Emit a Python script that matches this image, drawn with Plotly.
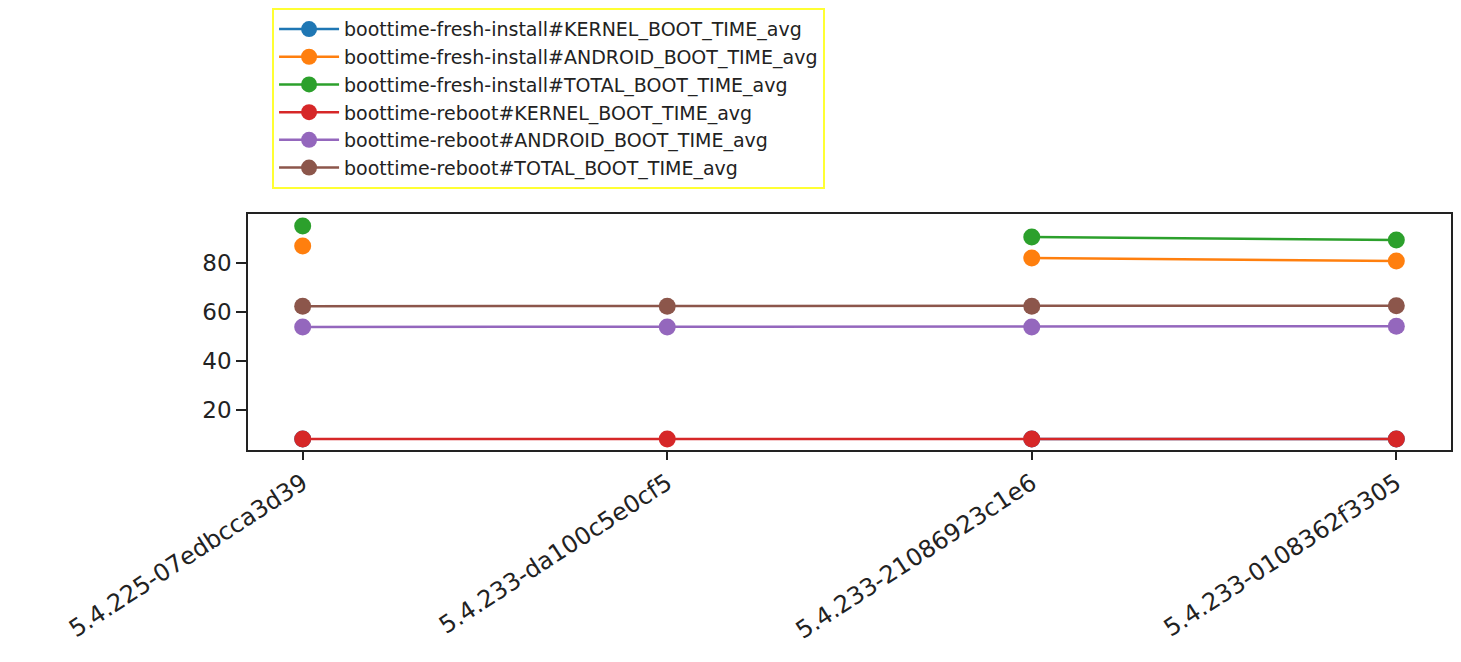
import plotly.graph_objects as go

builds = ["5.4.225-07edbcca3d39", "5.4.233-da100c5e0cf5",
          "5.4.233-21086923c1e6", "5.4.233-0108362f3305"]

series_names = [
    "boottime-fresh-install#KERNEL_BOOT_TIME_avg",
    "boottime-fresh-install#ANDROID_BOOT_TIME_avg",
    "boottime-fresh-install#TOTAL_BOOT_TIME_avg",
    "boottime-reboot#KERNEL_BOOT_TIME_avg",
    "boottime-reboot#ANDROID_BOOT_TIME_avg",
    "boottime-reboot#TOTAL_BOOT_TIME_avg",
]

fresh_kernel = [8.2, None, 8.2, 8.2]
fresh_android = [86.9, None, 82.0, 80.8]
fresh_total = [95.1, None, 90.6, 89.4]
reboot_kernel = [8.2, 8.2, 8.2, 8.2]
reboot_android = [53.9, 53.9, 53.9, 54.2]
reboot_total = [62.4, 62.4, 62.4, 62.6]

colors = ["#1f77b4", "#ff7f0e", "#2ca02c", "#d62728", "#9467bd", "#8c564b"]
values = [fresh_kernel, fresh_android, fresh_total,
          reboot_kernel, reboot_android, reboot_total]

FONT = "DejaVu Sans"

fig = go.Figure()
for name, vals, col in zip(series_names, values, colors):
    fig.add_trace(go.Scatter(
        x=list(range(len(builds))), y=vals, name=name,
        mode="lines+markers",
        line=dict(color=col, width=2.5),
        marker=dict(color=col, size=17),
        connectgaps=False,
    ))

# page body has an 8px margin; figure sized so that the whole page is 1461x662
fig.update_layout(
    width=1445, height=646,
    margin=dict(l=240, r=2, t=206, b=204, autoexpand=False),
    paper_bgcolor="white", plot_bgcolor="white",
    font=dict(family=FONT, color="#222222"),
    showlegend=True,
    legend=dict(
        x=0.020, y=1.872, xanchor="left", yanchor="top",
        bgcolor="white", bordercolor="#ffff33", borderwidth=2,
        font=dict(family=FONT, size=19, color="#222222"),
        itemwidth=60,
        tracegroupgap=0,
    ),
    xaxis=dict(
        range=[-0.15, 3.15], automargin=False,
        tickmode="array", tickvals=list(range(len(builds))), ticktext=builds,
        tickangle=-33,
        ticks="outside", ticklen=8, tickwidth=1.5, tickcolor="#222222",
        showline=True, linecolor="#222222", linewidth=1.5, mirror=True,
        showgrid=False, zeroline=False,
        tickfont=dict(family=FONT, size=24, color="#222222"),
    ),
    yaxis=dict(
        range=[3.7, 100], automargin=False,
        tickmode="array", tickvals=[20, 40, 60, 80],
        ticks="outside", ticklen=10, tickwidth=1.5, tickcolor="#222222",
        showline=True, linecolor="#222222", linewidth=1.5, mirror=True,
        showgrid=False, zeroline=False,
        tickfont=dict(family=FONT, size=23, color="#222222"),
    ),
)

fig.write_html("out.html")
